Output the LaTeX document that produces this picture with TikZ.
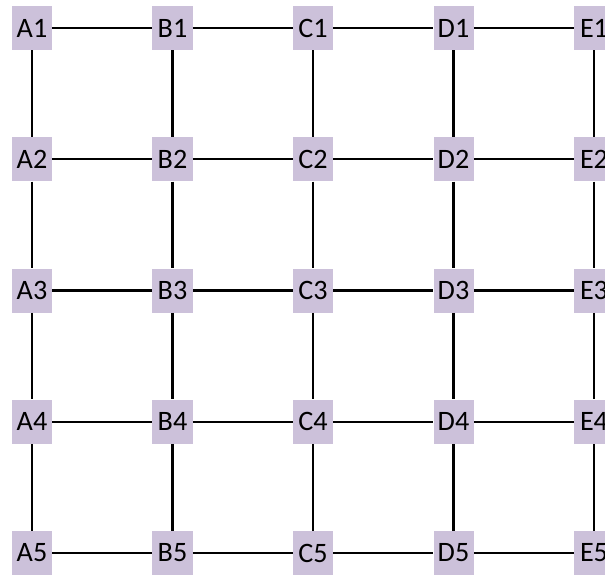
\documentclass[tikz,border=0pt]{standalone}
\usepackage{fontspec}
\setmainfont{Carlito}
\usepackage{tikz}
\usetikzlibrary{positioning}
\definecolor{gridlilac}{HTML}{CCC1DA}
\tikzset{
  cell/.style={fill=gridlilac, minimum width=1.0cm, minimum height=1.1cm, inner sep=0pt, font=\fontsize{20}{22}\selectfont},
  link/.style={line width=1.5pt, black}
}
\begin{document}
\begin{tikzpicture}[x=0.025cm, y=0.025cm]
  \useasboundingbox (0,0) rectangle (605,-575);
  % grid nodes
  \foreach \col [count=\i from 0] in {A,B,C,D,E} {
    \foreach \row [count=\j from 0] in {1,...,5} {
      \node[cell] (\col\row) at ({32+140.5*\i}, {-(28+131.25*\j)}) {\col\row};
    }
  }
  % horizontal links
  \foreach \a/\b in {A/B,B/C,C/D,D/E} {
    \foreach \row in {1,...,5} {
      \draw[link] (\a\row) -- (\b\row);
    }
  }
  % vertical links
  \foreach \col in {A,B,C,D,E} {
    \foreach \r/\s in {1/2,2/3,3/4,4/5} {
      \draw[link] (\col\r) -- (\col\s);
    }
  }
\end{tikzpicture}
\end{document}
